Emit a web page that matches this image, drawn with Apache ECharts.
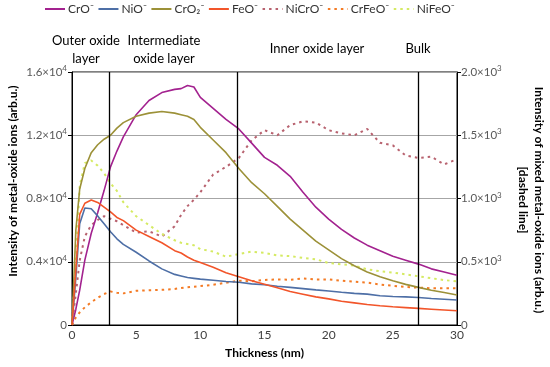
<!DOCTYPE html>
<html><head><meta charset="utf-8">
<script src="https://cdn.jsdelivr.net/npm/echarts@6/dist/echarts.min.js"></script>
<style>html,body{margin:0;padding:0;background:#fff}#c{width:550px;height:367px}</style>
</head><body><div id="c"></div>
<script>
// ---- data ----
const thickness = [0,0.3,0.6,1,1.5,2,2.5,3,3.5,4,5,6,7,8,8.5,9,9.5,10,11,12,13,14,15,16,17,18,19,20,21,22,23,24,25,26,27,28,29,30];
const CrO   = [0,1000,2200,4100,5800,7100,8500,10000,11000,11900,13300,14200,14700,14900,14950,15150,15050,14400,13700,13000,12400,11500,10600,10100,9400,8400,7450,6700,6050,5500,5050,4700,4350,4100,3850,3550,3350,3150];
const NiO   = [0,3000,6400,7400,7350,6900,6400,5900,5450,5100,4600,4050,3550,3200,3100,3000,2950,2900,2830,2750,2700,2600,2550,2450,2380,2300,2220,2150,2070,2000,1950,1850,1800,1780,1740,1680,1630,1580];
const CrO2  = [0,6000,8600,9900,10900,11400,11750,12000,12450,12800,13200,13400,13500,13400,13300,13200,13000,12500,11700,10900,9900,9000,8300,7500,6700,6000,5300,4750,4200,3750,3350,3050,2800,2570,2380,2200,2050,1900];
const FeO   = [0,3500,7000,7700,7900,7750,7450,7150,6800,6600,6000,5600,5200,4700,4550,4300,4100,3950,3650,3300,3050,2800,2580,2350,2120,1950,1780,1650,1500,1400,1300,1220,1150,1100,1050,1000,950,900];
const NiCrO = [0,250,510,700,790,830,860,840,820,790,730,740,700,780,870,940,990,1050,1190,1250,1320,1460,1540,1500,1580,1610,1600,1540,1515,1500,1550,1440,1420,1340,1320,1330,1270,1310];
const CrFeO = [0,60,100,140,180,215,245,265,255,250,270,275,278,285,292,298,303,308,318,334,350,345,356,360,358,368,360,360,350,342,335,320,310,300,296,290,290,290];
const NiFeO = [0,500,1100,1280,1300,1260,1200,1120,1060,970,860,790,720,670,650,640,630,600,580,540,560,580,570,550,545,530,520,490,480,470,440,425,415,400,385,370,355,345];
const seriesNames = ['CrO⁻','NiO⁻','CrO₂⁻','FeO⁻','NiCrO⁻','CrFeO⁻','NiFeO⁻'];
const seriesValues = [CrO, NiO, CrO2, FeO, NiCrO, CrFeO, NiFeO];
const seriesAxis = [0,0,0,0,1,1,1];
const seriesColors = ['#A3228F','#4E6FA6','#9C9138','#F2552A','#B8626F','#F47B25','#D5EA63'];
const boundaries = [2.9, 12.85, 27];
const sections = ['Outer oxide\nlayer', 'Intermediate\noxide layer', 'Inner oxide layer', 'Bulk'];

const FONT = 'Lato, "Open Sans", sans-serif';
const chart = echarts.init(document.getElementById('c'), null, {renderer:'canvas'});
const pair = arr => thickness.map((t,i)=>[t, arr[i]]);

const series = seriesNames.map((n,i)=>({
  name:n, type:'line', yAxisIndex: seriesAxis[i], symbol:'none', animation:false,
  data: pair(seriesValues[i]),
  lineStyle: {color: seriesColors[i], width: seriesAxis[i] ? 2 : 1.6, type: seriesAxis[i] ? [2.5,4] : 'solid'},
  itemStyle: {color: seriesColors[i]},
  z: seriesAxis[i] ? 3 : 4
}));
series[0].markLine = {
  silent:true, symbol:'none', animation:false,
  label:{show:false},
  lineStyle:{color:'#000', width:1.3, type:'solid'},
  data: boundaries.map(b=>({xAxis:b}))
};

const supLabel = (v, div, exp) => v === 0 ? '0' : '{b|' + (v/div).toFixed(1) + '×10}{s|' + exp + '}';
const rich = {
  b:{fontSize:11.5, color:'#595959', fontFamily:FONT},
  s:{fontSize:8, color:'#595959', fontFamily:FONT, padding:[0,0,7,0]}
};

const sectionPos = [[86,32],[164,32],[317,40],[418,40]];
const graphic = sections.map((s,i)=>({
  type:'text', x:sectionPos[i][0], y:sectionPos[i][1],
  style:{text:s, align:'center', verticalAlign:'top', fill:'#000', font:'13px '+FONT, lineHeight:18}
}));
graphic.push({type:'text', x:13, y:181, rotation:Math.PI/2,
  style:{text:'Intensity of metal-oxide ions (arb.u.)', align:'center', verticalAlign:'middle', fill:'#000', font:'bold 12px '+FONT}});
graphic.push({type:'text', x:531, y:200, rotation:-Math.PI/2,
  style:{text:'Intensity of mixed metal-oxide ions (arb.u.)\n[dashed line]', align:'center', verticalAlign:'middle', fill:'#000', font:'bold 12px '+FONT, lineHeight:16}});

chart.setOption({
  animation:false,
  backgroundColor:'#fff',
  legend:{
    top:3, left:44, itemWidth:20, itemHeight:10, itemGap:3.5, padding:0,
    itemStyle:{opacity:0},
    textStyle:{fontSize:12, color:'#333', fontFamily:FONT, padding:[0,0,0,-2]},
    data: seriesNames
  },
  grid:{left:72, right:93, top:72, bottom:42, show:true, borderColor:'#000', borderWidth:1},
  xAxis:{
    type:'value', min:0, max:30, interval:5,
    name:'Thickness (nm)', nameLocation:'middle', nameGap:22,
    nameTextStyle:{fontFamily:FONT, fontWeight:'bold', fontSize:12, color:'#000'},
    axisLine:{lineStyle:{color:'#000', width:1}},
    axisTick:{show:false},
    axisLabel:{fontSize:12, color:'#404040', fontFamily:FONT, margin:4},
    splitLine:{show:false}
  },
  yAxis:[{
    type:'value', min:0, max:16000, interval:4000,
    axisLine:{show:true, lineStyle:{color:'#000'}},
    axisTick:{show:true, length:4, lineStyle:{color:'#000'}},
    axisLabel:{margin:5, formatter:v=>supLabel(v,1e4,4), rich, color:'#595959', fontSize:11.5, fontFamily:FONT},
    splitLine:{show:true, lineStyle:{color:'#A6A6A6', width:1}}
  },{
    type:'value', min:0, max:2000, interval:500, position:'right',
    axisLine:{show:true, lineStyle:{color:'#000'}},
    axisTick:{show:true, length:4, lineStyle:{color:'#000'}},
    axisLabel:{margin:4, formatter:v=>supLabel(v,1e3,3), rich, color:'#595959', fontSize:11.5, fontFamily:FONT},
    splitLine:{show:false}
  }],
  graphic,
  series
});
</script></body></html>
